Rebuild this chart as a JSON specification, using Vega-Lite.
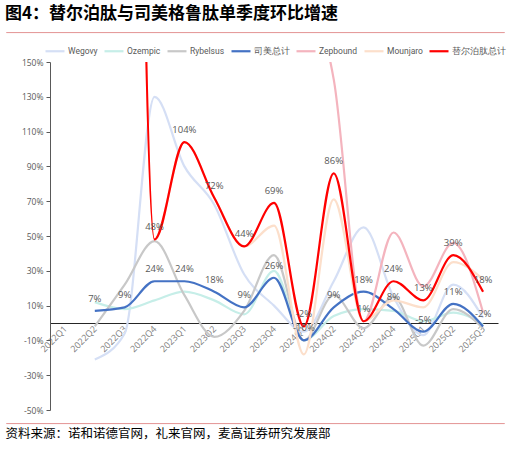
{
  "$schema": "https://vega.github.io/schema/vega-lite/v6.json",
  "background": "white",
  "padding": 5,
  "title": {
    "text": "图4：替尔泊肽与司美格鲁肽单季度环比增速",
    "anchor": "start",
    "font": "Noto Sans CJK SC",
    "fontSize": 17,
    "fontWeight": "bold",
    "color": "#000000",
    "offset": 8
  },
  "config": {
    "view": {"stroke": null},
    "font": "Open Sans"
  },
  "columns": 1,
  "spacing": 7,
  "resolve": {"legend": {"color": "independent", "strokeWidth": "independent"}},
  "datasets": {
    "growth": [
      {"quarter": "2022Q2", "series": "Wegovy", "growth": -21},
      {"quarter": "2022Q3", "series": "Wegovy", "growth": -6},
      {"quarter": "2022Q4", "series": "Wegovy", "growth": 130},
      {"quarter": "2023Q1", "series": "Wegovy", "growth": 90},
      {"quarter": "2023Q2", "series": "Wegovy", "growth": 68},
      {"quarter": "2023Q3", "series": "Wegovy", "growth": 28},
      {"quarter": "2023Q4", "series": "Wegovy", "growth": 10},
      {"quarter": "2024Q1", "series": "Wegovy", "growth": -5},
      {"quarter": "2024Q2", "series": "Wegovy", "growth": 24},
      {"quarter": "2024Q3", "series": "Wegovy", "growth": 55},
      {"quarter": "2024Q4", "series": "Wegovy", "growth": 15},
      {"quarter": "2025Q1", "series": "Wegovy", "growth": -7},
      {"quarter": "2025Q2", "series": "Wegovy", "growth": 22},
      {"quarter": "2025Q3", "series": "Wegovy", "growth": 3},

      {"quarter": "2022Q2", "series": "Ozempic", "growth": 12},
      {"quarter": "2022Q3", "series": "Ozempic", "growth": 8},
      {"quarter": "2022Q4", "series": "Ozempic", "growth": 13},
      {"quarter": "2023Q1", "series": "Ozempic", "growth": 18},
      {"quarter": "2023Q2", "series": "Ozempic", "growth": 13},
      {"quarter": "2023Q3", "series": "Ozempic", "growth": 5},
      {"quarter": "2023Q4", "series": "Ozempic", "growth": 30},
      {"quarter": "2024Q1", "series": "Ozempic", "growth": -10},
      {"quarter": "2024Q2", "series": "Ozempic", "growth": 4},
      {"quarter": "2024Q3", "series": "Ozempic", "growth": 8},
      {"quarter": "2024Q4", "series": "Ozempic", "growth": 7},
      {"quarter": "2025Q1", "series": "Ozempic", "growth": 1},
      {"quarter": "2025Q2", "series": "Ozempic", "growth": 6},
      {"quarter": "2025Q3", "series": "Ozempic", "growth": -1},

      {"quarter": "2022Q2", "series": "Rybelsus", "growth": -2},
      {"quarter": "2022Q3", "series": "Rybelsus", "growth": 22},
      {"quarter": "2022Q4", "series": "Rybelsus", "growth": 47},
      {"quarter": "2023Q1", "series": "Rybelsus", "growth": 16},
      {"quarter": "2023Q2", "series": "Rybelsus", "growth": -8},
      {"quarter": "2023Q3", "series": "Rybelsus", "growth": 7},
      {"quarter": "2023Q4", "series": "Rybelsus", "growth": 39},
      {"quarter": "2024Q1", "series": "Rybelsus", "growth": -10},
      {"quarter": "2024Q2", "series": "Rybelsus", "growth": 16},
      {"quarter": "2024Q3", "series": "Rybelsus", "growth": -3},
      {"quarter": "2024Q4", "series": "Rybelsus", "growth": 15},
      {"quarter": "2025Q1", "series": "Rybelsus", "growth": -13},
      {"quarter": "2025Q2", "series": "Rybelsus", "growth": 8},
      {"quarter": "2025Q3", "series": "Rybelsus", "growth": -3},

      {"quarter": "2022Q2", "series": "司美总计", "growth": 7},
      {"quarter": "2022Q3", "series": "司美总计", "growth": 9},
      {"quarter": "2022Q4", "series": "司美总计", "growth": 24},
      {"quarter": "2023Q1", "series": "司美总计", "growth": 24},
      {"quarter": "2023Q2", "series": "司美总计", "growth": 18},
      {"quarter": "2023Q3", "series": "司美总计", "growth": 9},
      {"quarter": "2023Q4", "series": "司美总计", "growth": 26},
      {"quarter": "2024Q1", "series": "司美总计", "growth": -10},
      {"quarter": "2024Q2", "series": "司美总计", "growth": 9},
      {"quarter": "2024Q3", "series": "司美总计", "growth": 18},
      {"quarter": "2024Q4", "series": "司美总计", "growth": 8},
      {"quarter": "2025Q1", "series": "司美总计", "growth": -5},
      {"quarter": "2025Q2", "series": "司美总计", "growth": 11},
      {"quarter": "2025Q3", "series": "司美总计", "growth": -2},

      {"quarter": "2024Q1", "series": "Zepbound", "growth": 194},
      {"quarter": "2024Q2", "series": "Zepbound", "growth": 140},
      {"quarter": "2024Q3", "series": "Zepbound", "growth": 1},
      {"quarter": "2024Q4", "series": "Zepbound", "growth": 52},
      {"quarter": "2025Q1", "series": "Zepbound", "growth": 21},
      {"quarter": "2025Q2", "series": "Zepbound", "growth": 46},
      {"quarter": "2025Q3", "series": "Zepbound", "growth": 6},

      {"quarter": "2022Q3", "series": "Mounjaro", "growth": 1069},
      {"quarter": "2022Q4", "series": "Mounjaro", "growth": 48},
      {"quarter": "2023Q1", "series": "Mounjaro", "growth": 104},
      {"quarter": "2023Q2", "series": "Mounjaro", "growth": 72},
      {"quarter": "2023Q3", "series": "Mounjaro", "growth": 44},
      {"quarter": "2023Q4", "series": "Mounjaro", "growth": 56},
      {"quarter": "2024Q1", "series": "Mounjaro", "growth": -18},
      {"quarter": "2024Q2", "series": "Mounjaro", "growth": 71},
      {"quarter": "2024Q3", "series": "Mounjaro", "growth": 1},
      {"quarter": "2024Q4", "series": "Mounjaro", "growth": 13},
      {"quarter": "2025Q1", "series": "Mounjaro", "growth": 9},
      {"quarter": "2025Q2", "series": "Mounjaro", "growth": 35},
      {"quarter": "2025Q3", "series": "Mounjaro", "growth": 25},

      {"quarter": "2022Q3", "series": "替尔泊肽总计", "growth": 1069},
      {"quarter": "2022Q4", "series": "替尔泊肽总计", "growth": 48},
      {"quarter": "2023Q1", "series": "替尔泊肽总计", "growth": 104},
      {"quarter": "2023Q2", "series": "替尔泊肽总计", "growth": 72},
      {"quarter": "2023Q3", "series": "替尔泊肽总计", "growth": 44},
      {"quarter": "2023Q4", "series": "替尔泊肽总计", "growth": 69},
      {"quarter": "2024Q1", "series": "替尔泊肽总计", "growth": -2},
      {"quarter": "2024Q2", "series": "替尔泊肽总计", "growth": 86},
      {"quarter": "2024Q3", "series": "替尔泊肽总计", "growth": 1},
      {"quarter": "2024Q4", "series": "替尔泊肽总计", "growth": 24},
      {"quarter": "2025Q1", "series": "替尔泊肽总计", "growth": 13},
      {"quarter": "2025Q2", "series": "替尔泊肽总计", "growth": 39},
      {"quarter": "2025Q3", "series": "替尔泊肽总计", "growth": 18}
    ]
  },
  "concat": [
    {
      "width": 498,
      "height": 0.1,
      "data": {"values": [{}]},
      "mark": {"type": "rule", "opacity": 0},
      "encoding": {},
      "view": {"stroke": "#e59c9c", "strokeWidth": 1}
    },
    {
      "width": 492,
      "height": 348,
      "data": {"name": "growth"},
      "encoding": {
        "x": {
          "field": "quarter",
          "type": "ordinal",
          "scale": {
            "type": "point",
            "padding": 0.5,
            "range": [44, 492],
            "domain": ["2022Q1", "2022Q2", "2022Q3", "2022Q4", "2023Q1", "2023Q2", "2023Q3", "2023Q4", "2024Q1", "2024Q2", "2024Q3", "2024Q4", "2025Q1", "2025Q2", "2025Q3"]
          },
          "axis": {
            "title": null,
            "offset": -87,
            "domainColor": "#262626",
            "domainWidth": 1,
            "ticks": false,
            "labelAngle": -45,
            "labelAlign": "right",
            "labelBaseline": "middle",
            "labelPadding": 4,
            "labelFontSize": 9,
            "labelColor": "#808080"
          }
        },
        "y": {
          "field": "growth",
          "type": "quantitative",
          "scale": {"domain": [-50, 150], "nice": false, "zero": false},
          "axis": {
            "title": null,
            "offset": -44,
            "values": [-50, -30, -10, 10, 30, 50, 70, 90, 110, 130, 150],
            "labelExpr": "datum.value + '%'",
            "grid": false,
            "domainColor": "#595959",
            "tickColor": "#595959",
            "tickSize": 4,
            "labelPadding": 3,
            "labelFontSize": 8.5,
            "labelColor": "#595959"
          }
        }
      },
      "layer": [
        {
          "mark": {"type": "line", "interpolate": "monotone", "clip": true},
          "encoding": {
            "color": {
              "field": "series",
              "type": "nominal",
              "scale": {
                "domain": ["Wegovy", "Ozempic", "Rybelsus", "司美总计", "Zepbound", "Mounjaro", "替尔泊肽总计"],
                "range": ["#d5dff5", "#c6eee8", "#c8c8c8", "#4472c4", "#f4b4be", "#fcdfcb", "#ff0000"]
              },
              "legend": {
                "title": null,
                "orient": "none",
                "direction": "horizontal",
                "columns": 7,
                "legendX": 38,
                "legendY": -22,
                "symbolType": "stroke",
                "symbolSize": 361,
                "symbolStrokeWidth": 2.5,
                "labelFont": "Roboto",
                "labelFontSize": 8.5,
                "labelColor": "#595959",
                "labelOffset": 2,
                "columnPadding": 2
              }
            },
            "strokeWidth": {
              "field": "series",
              "type": "nominal",
              "scale": {
                "domain": ["Wegovy", "Ozempic", "Rybelsus", "司美总计", "Zepbound", "Mounjaro", "替尔泊肽总计"],
                "range": [2.2, 2.2, 2.4, 2.8, 2.2, 2.2, 3]
              },
              "legend": null
            }
          }
        },
        {
          "transform": [
            {"filter": {"field": "series", "oneOf": ["司美总计", "替尔泊肽总计"]}},
            {"filter": "datum.growth <= 150"},
            {"calculate": "datum.growth + '%'", "as": "label"}
          ],
          "mark": {"type": "text", "dy": -12, "clip": true, "fontSize": 9.5, "color": "#595959"},
          "encoding": {"text": {"field": "label", "type": "nominal"}}
        }
      ]
    },
    {
      "width": 498,
      "height": 0.1,
      "data": {"values": [{}]},
      "mark": {"type": "rule", "opacity": 0},
      "encoding": {},
      "view": {"stroke": "#e59c9c", "strokeWidth": 1},
      "title": {
        "text": "资料来源：诺和诺德官网，礼来官网，麦高证券研究发展部",
        "orient": "bottom",
        "anchor": "start",
        "font": "Noto Sans CJK SC",
        "fontSize": 12.5,
        "fontWeight": "normal",
        "color": "#000000",
        "offset": 4
      }
    }
  ]
}
